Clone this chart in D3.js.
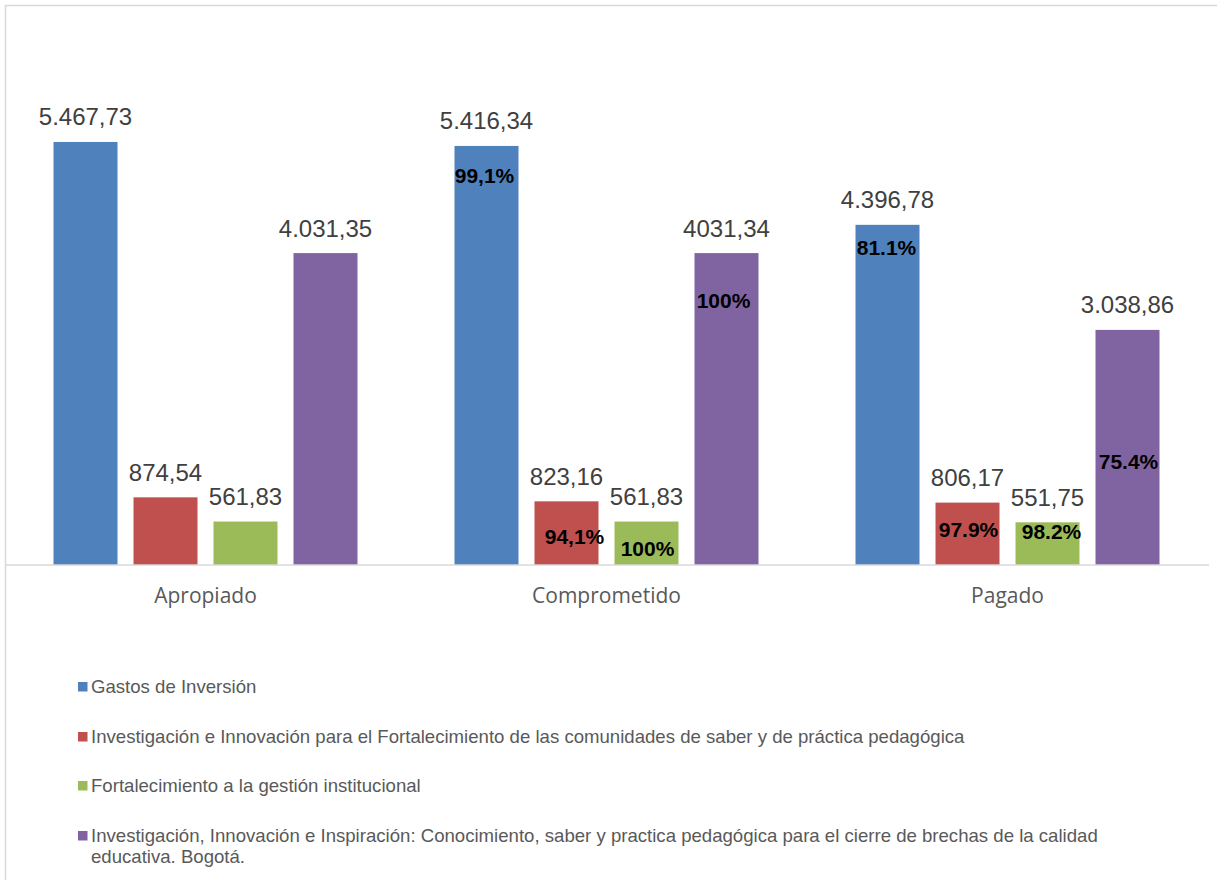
<!DOCTYPE html>
<html>
<head>
<meta charset="utf-8">
<script src="https://cdn.jsdelivr.net/npm/d3@7"></script>
<style>
  html, body { margin: 0; padding: 0; background: #fff; }
  svg { display: block; }
</style>
</head>
<body>
<svg id="chart" width="1217" height="880"></svg>
<script>
// ---- data ----
const categories = ["Apropiado", "Comprometido", "Pagado"];
const seriesNames = [
  "Gastos de Inversión",
  "Investigación e Innovación para el Fortalecimiento de las comunidades de saber y de práctica pedagógica",
  "Fortalecimiento a la gestión institucional",
  "Investigación, Innovación e Inspiración: Conocimiento, saber y practica pedagógica para el cierre de brechas de la calidad educativa. Bogotá."
];
const gastosInversion = [5467.73, 5416.34, 4396.78];
const investigacionInnovacion = [874.54, 823.16, 806.17];
const fortalecimientoGestion = [561.83, 561.83, 551.75];
const investigacionInspiracion = [4031.35, 4031.34, 3038.86];

const valueLabels = [
  ["5.467,73", "5.416,34", "4.396,78"],
  ["874,54", "823,16", "806,17"],
  ["561,83", "561,83", "551,75"],
  ["4.031,35", "4031,34", "3.038,86"]
];
const pctLabels = [
  [null, "99,1%", "81.1%"],
  [null, "94,1%", "97.9%"],
  [null, "100%", "98.2%"],
  [null, "100%", "75.4%"]
];
const legendLines = [
  ["Gastos de Inversión"],
  ["Investigación e Innovación para el Fortalecimiento de las comunidades de saber y de práctica pedagógica"],
  ["Fortalecimiento a la gestión institucional"],
  ["Investigación, Innovación e Inspiración: Conocimiento, saber y practica pedagógica para el cierre de brechas de la calidad",
   "educativa. Bogotá."]
];
const colors = ["#4F81BD", "#C0504D", "#9BBB59", "#8064A2"];

// layout of the percentage labels (offset of baseline below bar top, horizontal nudge)
const pctDy = [
  [0, 37, 30],
  [0, 43, 34],
  [0, 34, 17],
  [0, 55, 139]
];
const pctDx = [
  [0, -2, -1],
  [0, 8, 1],
  [0, 1, 4],
  [0, -3, 1]
];

const seriesValues = [gastosInversion, investigacionInnovacion, fortalecimientoGestion, investigacionInspiracion];

// ---- chart ----
const svg = d3.select("#chart");

// outer frame
svg.append("rect")
  .attr("x", 5.5).attr("y", 5.5)
  .attr("width", 1300).attr("height", 1000)
  .attr("fill", "none").attr("stroke", "#d9d9d9").attr("stroke-width", 1.5);

const baseY = 565;
const x0 = d3.scaleBand().domain(categories).range([5, 1208]).paddingInner(0).paddingOuter(0);
const x1 = d3.scaleBand().domain(d3.range(seriesNames.length)).range([0, x0.bandwidth()])
  .paddingInner(0.2).paddingOuter(0.60625);
const y = d3.scaleLinear().domain([0, 7000]).range([baseY, baseY - 7000 * 0.07737]);

const groups = svg.append("g").selectAll("g")
  .data(categories)
  .join("g")
  .attr("transform", d => `translate(${x0(d)},0)`);

const barData = (cat, ci) => seriesValues.map((vals, si) => ({ si, ci, v: vals[ci] }));

groups.selectAll("rect.bar")
  .data((d, ci) => barData(d, ci))
  .join("rect")
  .attr("class", "bar")
  .attr("x", d => x1(d.si))
  .attr("width", x1.bandwidth())
  .attr("y", d => y(d.v))
  .attr("height", d => y(0) - y(d.v))
  .attr("fill", d => colors[d.si]);

// value labels
groups.selectAll("text.val")
  .data((d, ci) => barData(d, ci))
  .join("text")
  .attr("class", "val")
  .attr("x", d => x1(d.si) + x1.bandwidth() / 2)
  .attr("y", d => y(d.v) - 16.5)
  .attr("text-anchor", "middle")
  .attr("font-family", "'Liberation Sans', Arial, sans-serif")
  .attr("font-size", 24)
  .attr("fill", "#404040")
  .text(d => valueLabels[d.si][d.ci]);

// percentage labels
groups.selectAll("text.pct")
  .data((d, ci) => barData(d, ci).filter(b => pctLabels[b.si][b.ci]))
  .join("text")
  .attr("class", "pct")
  .attr("x", d => x1(d.si) + x1.bandwidth() / 2 + pctDx[d.si][d.ci])
  .attr("y", d => y(d.v) + pctDy[d.si][d.ci])
  .attr("text-anchor", "middle")
  .attr("font-family", "'Liberation Sans', Arial, sans-serif")
  .attr("font-weight", "bold")
  .attr("font-size", 21)
  .attr("fill", "#000")
  .text(d => pctLabels[d.si][d.ci]);

// x axis
const xAxis = d3.axisBottom(x0).tickSize(0).tickPadding(0);
const axisG = svg.append("g").attr("transform", `translate(0,${baseY})`).call(xAxis);
axisG.select(".domain").attr("stroke", "#d9d9d9").attr("stroke-width", 1.5)
  .attr("d", "M5,0H1209");
axisG.selectAll(".tick text")
  .attr("dy", 0).attr("y", 38)
  .attr("font-family", "'Open Sans', sans-serif")
  .attr("font-size", 21)
  .attr("fill", "#595959");

// legend
const legend = svg.append("g");
const rowY = [693, 743, 792, 842];
legendLines.forEach((lines, i) => {
  legend.append("rect")
    .attr("x", 78).attr("y", rowY[i] - 11)
    .attr("width", 9.5).attr("height", 9.5)
    .attr("fill", colors[i]);
  const t = legend.append("text")
    .attr("x", 91).attr("y", rowY[i])
    .attr("font-family", "'Liberation Sans', Arial, sans-serif")
    .attr("font-size", 18.6)
    .attr("fill", "#595959");
  lines.forEach((ln, j) => {
    t.append("tspan").attr("x", 91).attr("dy", j === 0 ? 0 : 21).text(ln);
  });
});
</script>
</body>
</html>
